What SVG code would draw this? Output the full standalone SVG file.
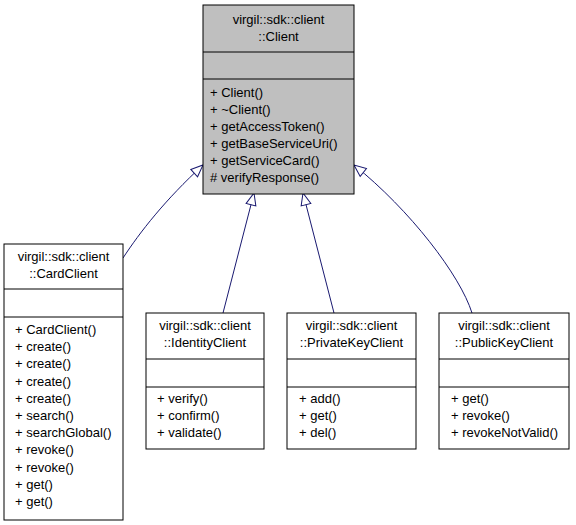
<svg xmlns="http://www.w3.org/2000/svg" width="576" height="525" viewBox="0 0 576 525">
  <style>
    .box { fill: #ffffff; stroke: #000000; stroke-width: 1; }
    .base { fill: #bfbfbf; }
    .sep { stroke: #000000; stroke-width: 1; }
    text { font-family: "Liberation Sans", Arial, sans-serif; font-size: 13px; fill: #000000; }
    .c { text-anchor: middle; }
    .edge { fill: none; stroke: #191970; stroke-width: 1; marker-end: url(#inherit); }
  </style>
  <defs>
    <marker id="inherit" markerUnits="userSpaceOnUse" markerWidth="14" markerHeight="12" viewBox="0 0 14 12" refX="13" refY="6" orient="auto">
      <path d="M1,1 L13,6 L1,11 Z" fill="#ffffff" stroke="#191970" stroke-width="1"/>
    </marker>
  </defs>

  <!-- inheritance connectors -->
  <g id="edges">
    <path class="edge" d="M123,258 C140,232 165,200 203,165"/>
    <path class="edge" d="M223,313 L254,193"/>
    <path class="edge" d="M334,313 L303,193"/>
    <path class="edge" d="M472,313 C460,275 410,210 354,165"/>
  </g>

  <!-- base class -->
  <g id="Client">
    <rect class="box base" x="203" y="5" width="151" height="189"/>
    <line class="sep" x1="203" y1="52" x2="354" y2="52"/>
    <line class="sep" x1="203" y1="79" x2="354" y2="79"/>
    <text class="c" x="278.5" y="23.5">virgil::sdk::client</text>
    <text class="c" x="278.5" y="40.5">::Client</text>
    <text x="210" y="97">+ Client()</text>
    <text x="210" y="114">+ ~Client()</text>
    <text x="210" y="131">+ getAccessToken()</text>
    <text x="210" y="148">+ getBaseServiceUri()</text>
    <text x="210" y="165">+ getServiceCard()</text>
    <text x="210" y="182"># verifyResponse()</text>
  </g>

  <g id="CardClient">
    <rect class="box" x="4" y="244" width="119" height="276"/>
    <line class="sep" x1="4" y1="289" x2="123" y2="289"/>
    <line class="sep" x1="4" y1="317" x2="123" y2="317"/>
    <text class="c" x="63.5" y="261">virgil::sdk::client</text>
    <text class="c" x="63.5" y="278">::CardClient</text>
    <text x="15" y="334">+ CardClient()</text>
    <text x="15" y="351.2">+ create()</text>
    <text x="15" y="368.4">+ create()</text>
    <text x="15" y="385.6">+ create()</text>
    <text x="15" y="402.8">+ create()</text>
    <text x="15" y="420">+ search()</text>
    <text x="15" y="437.2">+ searchGlobal()</text>
    <text x="15" y="454.4">+ revoke()</text>
    <text x="15" y="471.6">+ revoke()</text>
    <text x="15" y="488.8">+ get()</text>
    <text x="15" y="506">+ get()</text>
  </g>

  <g id="IdentityClient">
    <rect class="box" x="146" y="313" width="118" height="136"/>
    <line class="sep" x1="146" y1="359" x2="264" y2="359"/>
    <line class="sep" x1="146" y1="387" x2="264" y2="387"/>
    <text class="c" x="205" y="330">virgil::sdk::client</text>
    <text class="c" x="205" y="347">::IdentityClient</text>
    <text x="157" y="403">+ verify()</text>
    <text x="157" y="420">+ confirm()</text>
    <text x="157" y="437">+ validate()</text>
  </g>

  <g id="PrivateKeyClient">
    <rect class="box" x="287" y="313" width="129" height="136"/>
    <line class="sep" x1="287" y1="359" x2="416" y2="359"/>
    <line class="sep" x1="287" y1="387" x2="416" y2="387"/>
    <text class="c" x="351.5" y="330">virgil::sdk::client</text>
    <text class="c" x="351.5" y="347">::PrivateKeyClient</text>
    <text x="299" y="403">+ add()</text>
    <text x="299" y="420">+ get()</text>
    <text x="299" y="437">+ del()</text>
  </g>

  <g id="PublicKeyClient">
    <rect class="box" x="439" y="313" width="130" height="136"/>
    <line class="sep" x1="439" y1="359" x2="569" y2="359"/>
    <line class="sep" x1="439" y1="387" x2="569" y2="387"/>
    <text class="c" x="504" y="330">virgil::sdk::client</text>
    <text class="c" x="504" y="347">::PublicKeyClient</text>
    <text x="451" y="403">+ get()</text>
    <text x="451" y="420">+ revoke()</text>
    <text x="451" y="437">+ revokeNotValid()</text>
  </g>
</svg>
